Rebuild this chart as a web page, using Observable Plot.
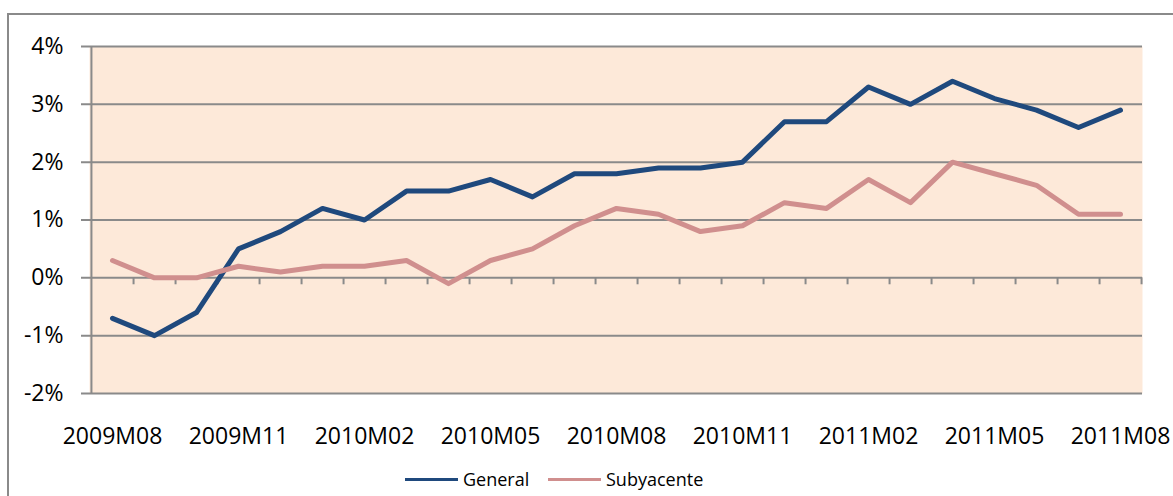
<!DOCTYPE html>
<html>
<head>
<meta charset="utf-8">
<script src="https://cdn.jsdelivr.net/npm/d3@7"></script>
<script src="https://cdn.jsdelivr.net/npm/@observablehq/plot@0.6"></script>
<style>
  html, body { margin: 0; padding: 0; background: #ffffff; }
  #wrap { position: relative; width: 1173px; height: 496px; overflow: hidden; font-family: "Open Sans", sans-serif; }
  #border { position: absolute; left: 7px; top: 13px; width: 1300px; height: 600px; border-left: 2px solid #8a8a8a; border-top: 2px solid #8a8a8a; }
  #chart { position: absolute; left: 0; top: 0; }
  #legend { position: absolute; left: 0; top: 466px; width: 1173px; height: 26px; }
  .item { position: absolute; top: 0; height: 26px; display: flex; align-items: center; font-size: 18px; color: #000; }
  .sw { display: inline-block; width: 53px; height: 3px; margin-right: 5px; }
</style>
</head>
<body>
<div id="wrap">
  <div id="border"></div>
  <div id="chart"></div>
  <div id="legend">
    <div class="item" style="left:405px"><span class="sw" style="background:#1f497d"></span>General</div>
    <div class="item" style="left:548px"><span class="sw" style="background:#d08f8e"></span>Subyacente</div>
  </div>
</div>
<script>
const months = ["2009M08","2009M09","2009M10","2009M11","2009M12",
  "2010M01","2010M02","2010M03","2010M04","2010M05","2010M06","2010M07","2010M08","2010M09","2010M10","2010M11","2010M12",
  "2011M01","2011M02","2011M03","2011M04","2011M05","2011M06","2011M07","2011M08"];
const general = [-0.7, -1.0, -0.6, 0.5, 0.8, 1.2, 1.0, 1.5, 1.5, 1.7, 1.4, 1.8, 1.8, 1.9, 1.9, 2.0, 2.7, 2.7, 3.3, 3.0, 3.4, 3.1, 2.9, 2.6, 2.9];
const subyacente = [0.3, 0.0, 0.0, 0.2, 0.1, 0.2, 0.2, 0.3, -0.1, 0.3, 0.5, 0.9, 1.2, 1.1, 0.8, 0.9, 1.3, 1.2, 1.7, 1.3, 2.0, 1.8, 1.6, 1.1, 1.1];
const yTicks = [-2, -1, 0, 1, 2, 3, 4];
const xTickLabels = ["2009M08","2009M11","2010M02","2010M05","2010M08","2010M11","2011M02","2011M05","2011M08"];
const seriesNames = ["General", "Subyacente"];
const seriesColors = ["#1f497d", "#d08f8e"];

const W = 1173, H = 460, mL = 89, mR = 31, mT = 46, mB = 67;
const step = (W - mL - mR) / months.length;

const rows = [
  ...months.map((m, i) => ({month: m, value: general[i], series: seriesNames[0]})),
  ...months.map((m, i) => ({month: m, value: subyacente[i], series: seriesNames[1]}))
];

const chart = Plot.plot({
  width: W, height: H,
  marginLeft: mL, marginRight: mR, marginTop: mT, marginBottom: mB,
  style: {fontFamily: "Open Sans", fontSize: "20px", background: "transparent", color: "#000"},
  x: {type: "point", domain: months, padding: 0.5, label: null},
  y: {domain: [-2, 4], label: null},
  color: {domain: seriesNames, range: seriesColors},
  marks: [
    Plot.frame({fill: "#fde9d9", stroke: null}),
    Plot.ruleY(yTicks, {stroke: "#8a8a8a", strokeWidth: 2, insetLeft: -8}),
    Plot.ruleX(months, {x: d => d, y1: 0, y2: -0.12, dx: step / 2, stroke: "#8a8a8a", strokeWidth: 2}),
    Plot.ruleX([months[0]], {x: d => d, y1: -2, y2: 4, dx: -step / 2, stroke: "#8a8a8a", strokeWidth: 2}),
    Plot.line(rows, {x: "month", y: "value", z: "series", stroke: "series", strokeWidth: 5, strokeLinejoin: "round", strokeLinecap: "round"}),
    Plot.axisX({ticks: xTickLabels, tickSize: 0, tickPadding: 34, fontSize: 23, fill: "#000", label: null}),
    Plot.axisY({ticks: yTicks, tickSize: 0, tickPadding: 26, fontSize: 23, fill: "#000", tickFormat: d => d + "%", label: null})
  ]
});
document.getElementById("chart").appendChild(chart);
</script>
</body>
</html>
